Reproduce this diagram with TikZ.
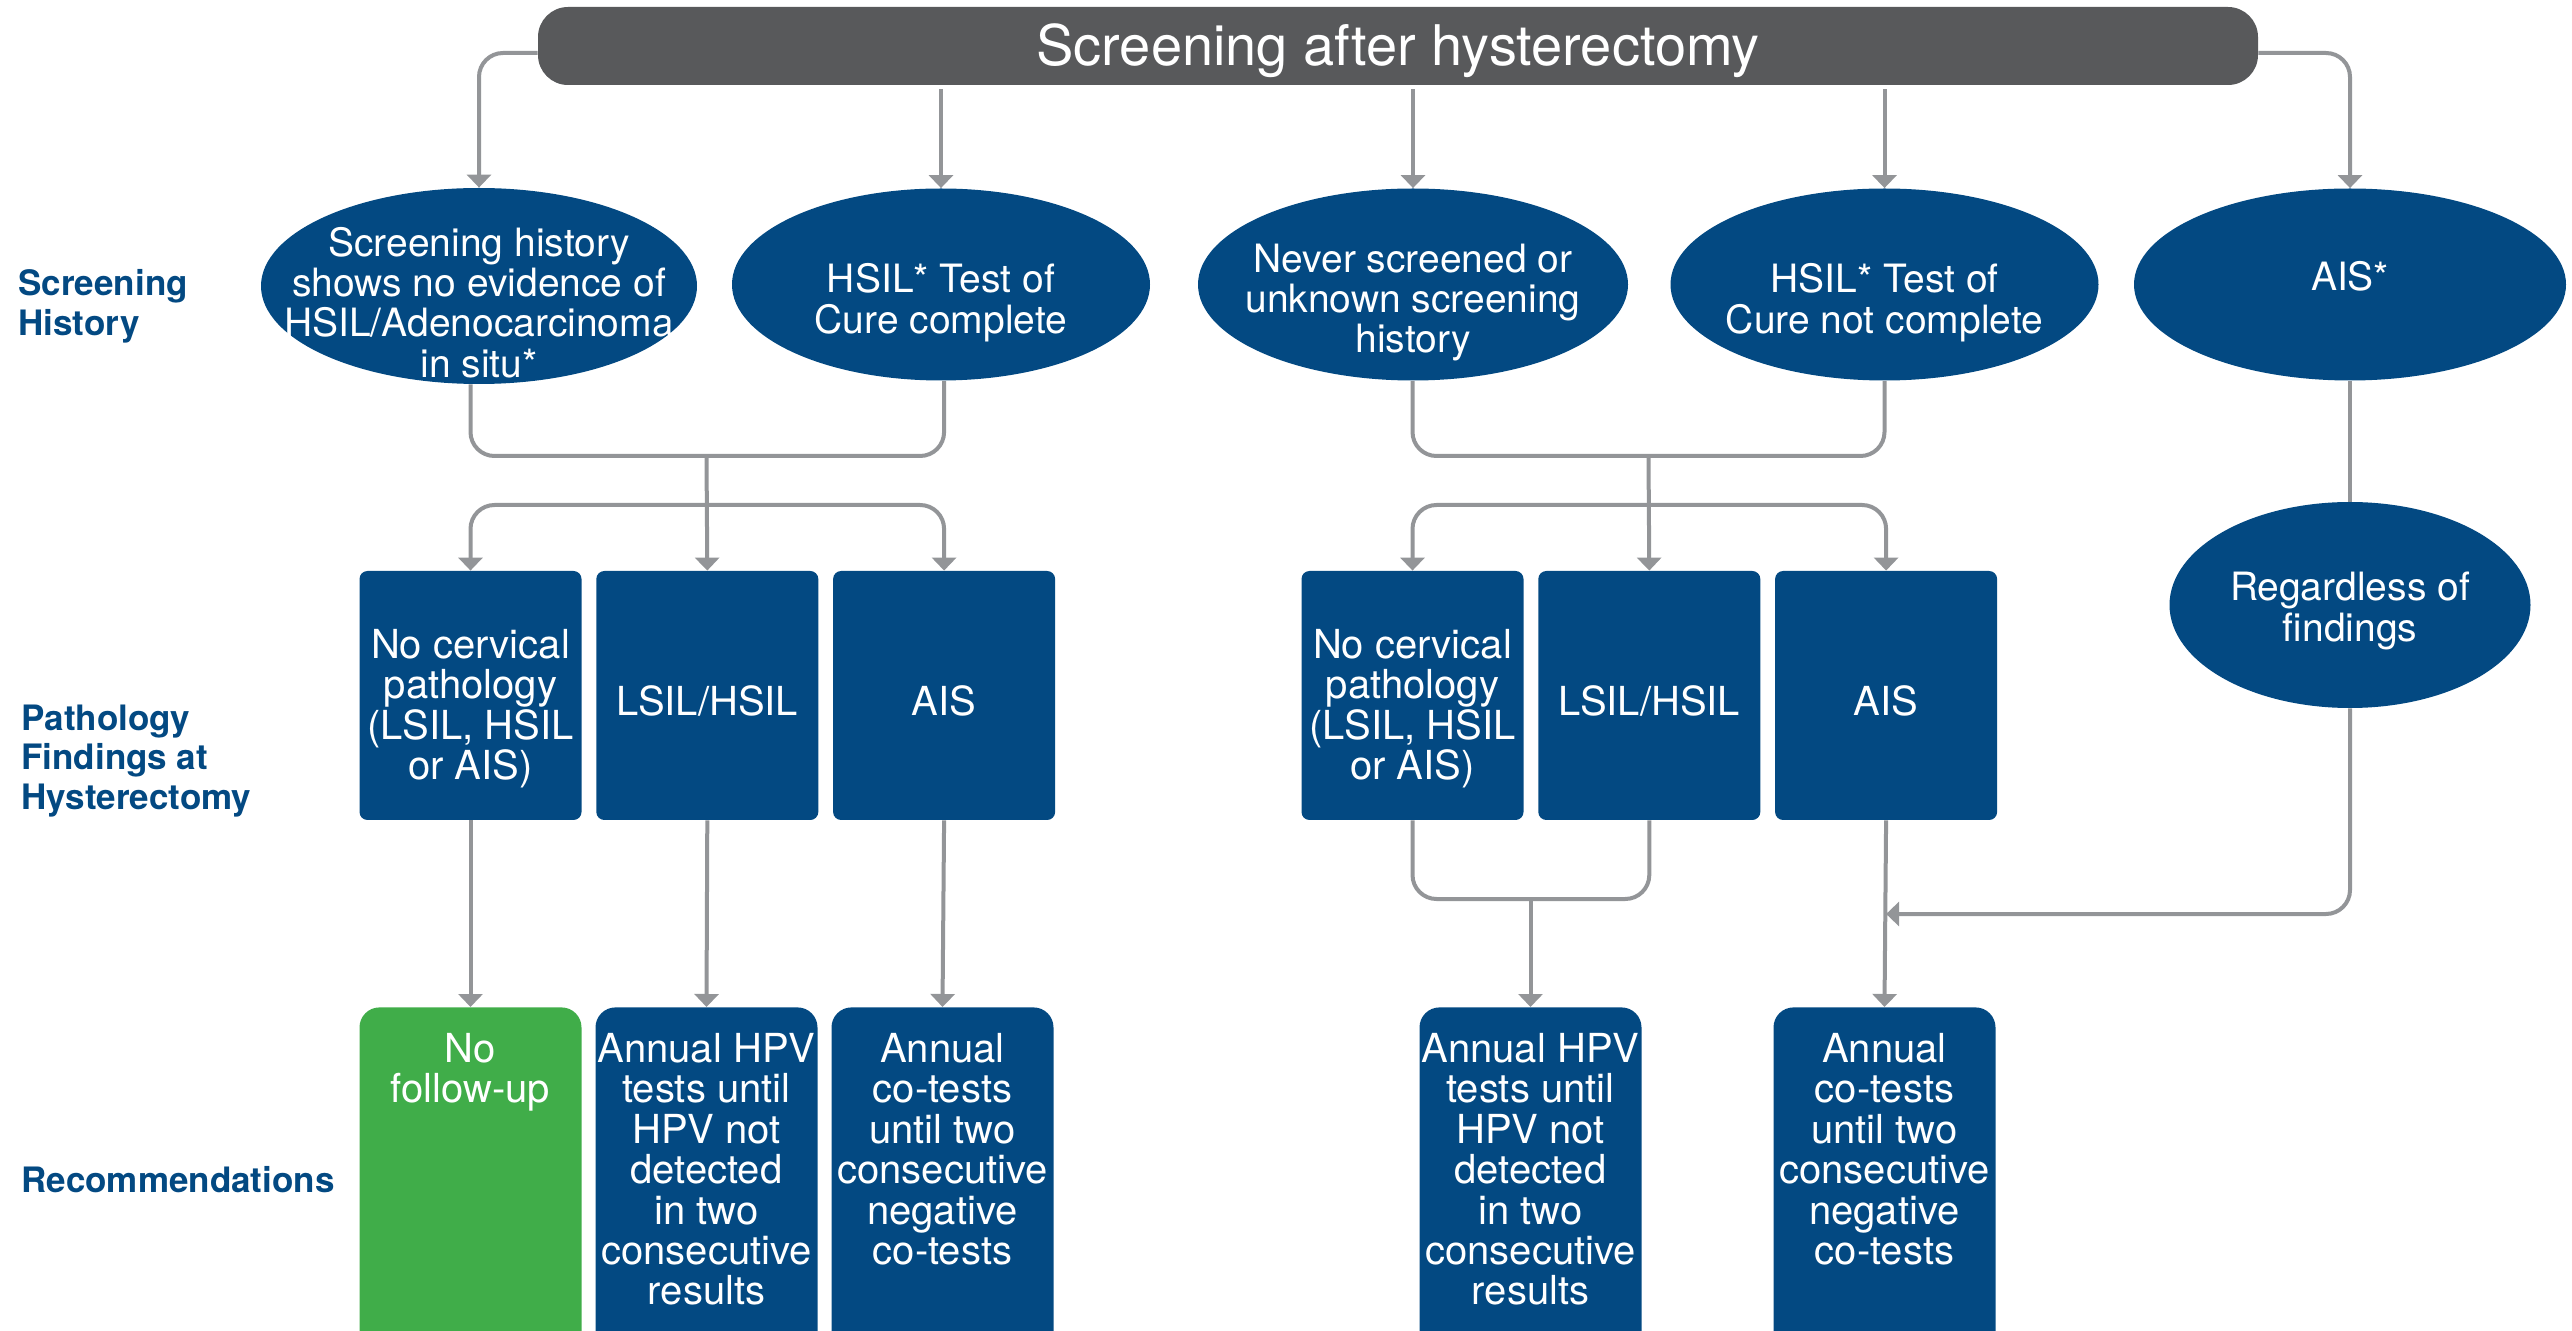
\documentclass[tikz,border=0pt]{standalone}
\usepackage{fontspec}
\setmainfont{TeX Gyre Heros}
\usetikzlibrary{shapes.geometric, positioning, arrows.meta}
\definecolor{nhsblue}{RGB}{3,73,130}
\definecolor{bargrey}{RGB}{88,89,91}
\definecolor{linegrey}{RGB}{147,149,152}
\definecolor{okgreen}{RGB}{64,173,73}
\tikzset{
wire/.style={draw=linegrey, line width=2pt, rounded corners=12pt}, % grey connector, no head
wirearrow/.style={wire, -{Triangle[width=12pt,length=6.5pt]}}, % grey connector with a flat head
banner/.style={rectangle, fill=bargrey, rounded corners=15pt, minimum width=860pt, minimum height=39pt}, % the title bar
bannertext/.style={text=white, inner sep=0pt, font=\fontsize{28}{30}\selectfont}, % title on the bar
hist/.style={ellipse, fill=nhsblue, minimum width=214pt, minimum height=96pt, inner sep=0pt}, % screening history ovals
histtext/.style={text=white, align=center, inner sep=0pt, font=\fontsize{19.5}{20.2}\selectfont}, % text set on the ovals
find/.style={rectangle, fill=nhsblue, rounded corners=4pt, minimum width=111pt, minimum height=124.5pt, inner sep=0pt}, % pathology boxes
findtext/.style={text=white, align=center, inner sep=0pt, font=\fontsize{20}{20.2}\selectfont}, % text in a pathology box
rec/.style={rectangle, fill=nhsblue, rounded corners=10pt, minimum width=111pt, minimum height=180pt, anchor=north}, % recommendation boxes, open at the bottom
rectext/.style={text=white, align=center, inner sep=0pt, anchor=north, font=\fontsize{20}{20.2}\selectfont}, % text at the top of a recommendation box
rowlabel/.style={text=nhsblue, align=left, anchor=west, inner sep=0pt, font=\bfseries\fontsize{17.5}{19.8}\selectfont}, % labels down the left side
}

\begin{document}
\begin{tikzpicture}[x=0.5pt, y=-0.5pt, node distance=7pt]
\useasboundingbox (0,0) rectangle (2572,1331);
\clip (0,0) rectangle (2572,1331);
\node[banner] (top) at (1398,46) {};
\node[bannertext] (topt) at ([yshift=-2.5pt]top.center) {Screening after hysterectomy};

% row labels
\node[rowlabel] (l1) at (18,306) {Screening\\History};
\node[rowlabel] (l2) at (21,761) {Pathology\\Findings at\\Hysterectomy};
\node[rowlabel] (l3) at (21,1180) {Recommendations};

% screening history
\node[hist, minimum width=218pt, minimum height=98pt] (h1) at (479,286) {};
\node[hist, minimum width=209pt] (h2) at (941,284.5) {};
\node[hist, minimum width=215pt] (h3) at (1413,284.5) {};
\node[hist] (h4) at (1884.5,284.5) {};
\node[hist, minimum width=216pt] (h5) at (2350,284.5) {};
\node[histtext] (h1t) at ([yshift=-8.2pt]h1.center) {Screening history\\shows no evidence of\\HSIL/Adenocarcinoma\\in situ*};
\node[histtext] (h2t) at ([yshift=-9pt]h2.center) {HSIL* Test of\\Cure complete};
\node[histtext] (h3t) at ([yshift=-9pt]h3.center) {Never screened or\\unknown screening\\history};
\node[histtext] (h4t) at ([yshift=-9pt]h4.center) {HSIL* Test of\\Cure not complete};
\node[histtext] (h5t) at ([yshift=4pt]h5.center) {AIS*};
\node[hist, minimum width=180.5pt, minimum height=103pt] (any) at (2350,605) {};
\node[histtext] (anyt) at ([yshift=-3pt]any.center) {Regardless of\\findings};

% pathology findings
\node[find] (p1) at (470.5,695.5) {};
\node[find] (p2) [right=of p1] {};
\node[find] (p3) [right=of p2] {};
\node[find] (p4) at (1412.5,695.5) {};
\node[find] (p5) [right=of p4] {};
\node[find] (p6) [right=of p5] {};
\node[findtext] (p1t) at ([yshift=-6.5pt]p1.center) {No cervical\\pathology\\(LSIL, HSIL\\or AIS)};
\node[findtext] (p2t) at ([yshift=-2.5pt]p2.center) {LSIL/HSIL};
\node[findtext] (p3t) at ([yshift=-2.5pt]p3.center) {AIS};
\node[findtext] (p4t) at ([yshift=-6.5pt]p4.center) {No cervical\\pathology\\(LSIL, HSIL\\or AIS)};
\node[findtext] (p5t) at ([yshift=-2.5pt]p5.center) {LSIL/HSIL};
\node[findtext] (p6t) at ([yshift=-2.5pt]p6.center) {AIS};

% recommendations
\node[rec, fill=okgreen] (r1) at (470.5,1007) {};
\node[rec] (r2) at (706.5,1007) {};
\node[rec] (r3) at (942.5,1007) {};
\node[rec] (r4) at (1530.5,1007) {};
\node[rec] (r5) at (1884.5,1007) {};
\node[rectext] (r1t) at ([yshift=-13pt]r1.north) {No\\follow-up};
\node[rectext] (r2t) at ([yshift=-13pt]r2.north) {Annual HPV\\tests until\\HPV not\\detected\\in two\\consecutive\\results};
\node[rectext] (r3t) at ([yshift=-13pt]r3.north) {Annual\\co-tests\\until two\\consecutive\\negative\\co-tests};
\node[rectext] (r4t) at ([yshift=-13pt]r4.north) {Annual HPV\\tests until\\HPV not\\detected\\in two\\consecutive\\results};
\node[rectext] (r5t) at ([yshift=-13pt]r5.north) {Annual\\co-tests\\until two\\consecutive\\negative\\co-tests};

% junction points
\coordinate (j1) at (706.5,456);
\coordinate (k1) at (706.5,505);
\coordinate (j2) at (1648.5,456);
\coordinate (k2) at (1648.5,505);
\coordinate (j3) at (1530.5,899);
\coordinate (m) at (p6.south |- 0,914);

% connectors
\draw[wirearrow] ([yshift=-3.5pt]top.west) -| (h1.north);
\draw[wirearrow] ([yshift=-3.5pt]top.east) -| (h5.north);
\foreach \n in {h2,h3,h4}
  \draw[wirearrow, shorten <=2pt] (top.south -| \n.north) -- (\n.north);
\draw[wire] (h1.south -| p1.north) |- (j1) -| (h2.south -| p3.north);
\draw[wire] (h3.south -| p4.north) |- (j2) -| (h4.south);
\draw[wirearrow] (j1) -- (p2.north);
\draw[wirearrow] (k1) -| (p1.north);
\draw[wirearrow] (k1) -| (p3.north);
\draw[wirearrow] (j2) -- (p5.north);
\draw[wirearrow] (k2) -| (p4.north);
\draw[wirearrow] (k2) -| (p6.north);
\foreach \a/\b in {p1/r1, p2/r2, p3/r3, p6/r5}
  \draw[wirearrow] (\a.south) -- (\b.north);
\draw[wire] (p4.south) |- (j3) -| (p5.south);
\draw[wirearrow] (j3) -- (r4.north);
\draw[wire] (h5.south) -- (any.north);
\draw[wirearrow] (any.south) |- (m);
\end{tikzpicture}
\end{document}
